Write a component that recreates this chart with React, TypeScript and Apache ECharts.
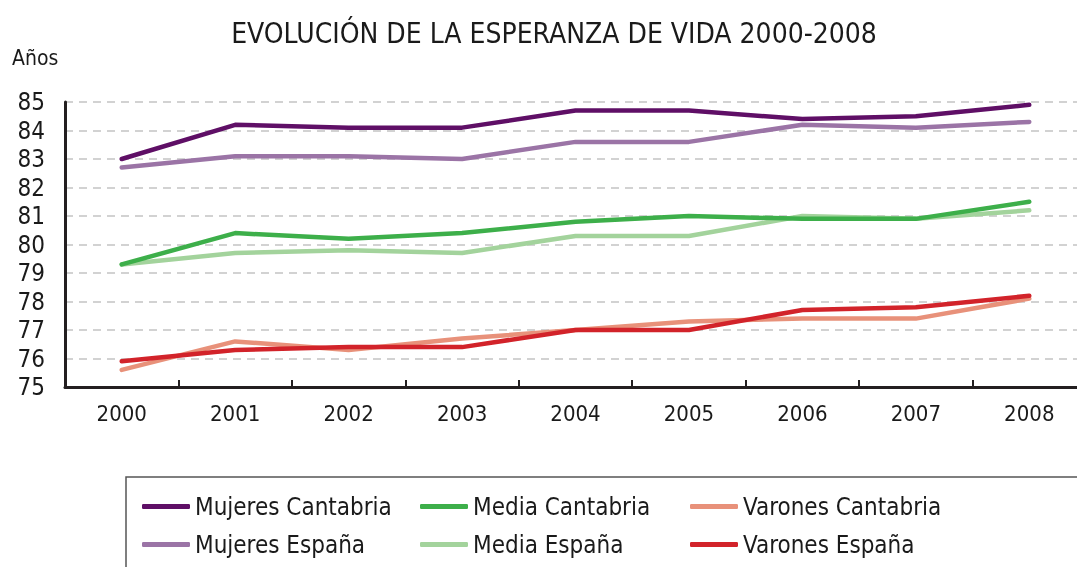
import React, { useEffect, useRef } from "react";
import * as echarts from "echarts";

const years = ["2000", "2001", "2002", "2003", "2004", "2005", "2006", "2007", "2008"];
const mujeresCantabria = [83.0, 84.2, 84.1, 84.1, 84.7, 84.7, 84.4, 84.5, 84.9];
const mujeresEspana = [82.7, 83.1, 83.1, 83.0, 83.6, 83.6, 84.2, 84.1, 84.3];
const mediaCantabria = [79.3, 80.4, 80.2, 80.4, 80.8, 81.0, 80.9, 80.9, 81.5];
const mediaEspana = [79.3, 79.7, 79.8, 79.7, 80.3, 80.3, 81.0, 80.9, 81.2];
const varonesCantabria = [75.6, 76.6, 76.3, 76.7, 77.0, 77.3, 77.4, 77.4, 78.1];
const varonesEspana = [75.9, 76.3, 76.4, 76.4, 77.0, 77.0, 77.7, 77.8, 78.2];

const FONT = "'DejaVu Sans Condensed', 'DejaVu Sans', sans-serif";

const seriesDefs = [
  { name: "Mujeres Cantabria", data: mujeresCantabria, color: "#5f0f66" },
  { name: "Mujeres España", data: mujeresEspana, color: "#9b74a6" },
  { name: "Media Cantabria", data: mediaCantabria, color: "#3daf4a" },
  { name: "Media España", data: mediaEspana, color: "#a3d39c" },
  { name: "Varones Cantabria", data: varonesCantabria, color: "#e8917a" },
  { name: "Varones España", data: varonesEspana, color: "#d2232a" },
];

// draw order: light lines first, so dark ones sit on top as in the reference
const drawOrder = ["Mujeres España", "Mujeres Cantabria", "Media España", "Media Cantabria", "Varones Cantabria", "Varones España"];

export default function App() {
  const ref = useRef<HTMLDivElement>(null);
  useEffect(() => {
    if (!ref.current) return;
    document.body.style.overflow = "hidden";
    const chart = echarts.init(ref.current, null, { renderer: "svg" });
    const legendCommon = {
      orient: "vertical",
      top: 494,
      padding: 0,
      itemWidth: 48,
      itemHeight: 5,
      itemGap: 13,
      icon: "roundRect",
      textStyle: { fontFamily: FONT, fontSize: 24, color: "#1a1a1a", lineHeight: 25 },
    };
    chart.setOption({
      animation: false,
      textStyle: { fontFamily: FONT },
      grid: { left: 65, top: 102, bottom: 180, right: 14, containLabel: false },
      graphic: [
        {
          type: "text",
          x: 554,
          y: 33,
          style: {
            text: "EVOLUCIÓN DE LA ESPERANZA DE VIDA 2000-2008",
            fontFamily: FONT,
            fontSize: 28,
            fill: "#1a1a1a",
            textAlign: "center",
            textVerticalAlign: "middle",
          },
        },
        {
          type: "text",
          x: 12,
          y: 58,
          style: { text: "Años", fontFamily: FONT, fontSize: 21, fill: "#1a1a1a", textVerticalAlign: "middle" },
        },
        {
          type: "rect",
          shape: { x: 126, y: 477, width: 1000, height: 140 },
          style: { fill: "none", stroke: "#555", lineWidth: 1.5 },
        },
      ],
      legend: [
        { ...legendCommon, left: 142, data: ["Mujeres Cantabria", "Mujeres España"] },
        { ...legendCommon, left: 420, data: ["Media Cantabria", "Media España"] },
        { ...legendCommon, left: 690, data: ["Varones Cantabria", "Varones España"] },
      ],
      xAxis: {
        type: "category",
        data: years,
        boundaryGap: true,
        axisLine: { lineStyle: { color: "#231f20", width: 3 } },
        axisTick: { show: true, inside: true, length: 7, lineStyle: { color: "#231f20", width: 2 } },
        axisLabel: { fontFamily: FONT, fontSize: 22, color: "#1a1a1a", margin: 15 },
      },
      yAxis: {
        type: "value",
        min: 75,
        max: 85,
        interval: 1,
        axisLine: { show: true, lineStyle: { color: "#231f20", width: 3 } },
        axisTick: { show: false },
        axisLabel: { fontFamily: FONT, fontSize: 24, color: "#1a1a1a", margin: 20 },
        splitLine: { lineStyle: { color: "#c4c4c4", width: 1.5, type: [8, 6] } },
      },
      series: drawOrder.map((n) => {
        const s = seriesDefs.find((d) => d.name === n)!;
        return {
          name: s.name,
          type: "line",
          data: s.data,
          showSymbol: false,
          symbol: "none",
          lineStyle: { color: s.color, width: 4.5, cap: "round", join: "round" },
          itemStyle: { color: s.color },
        };
      }),
    });
    return () => chart.dispose();
  }, []);
  return <div ref={ref} style={{ position: "fixed", left: 0, top: 0, width: 1100, height: 567 }} />;
}
